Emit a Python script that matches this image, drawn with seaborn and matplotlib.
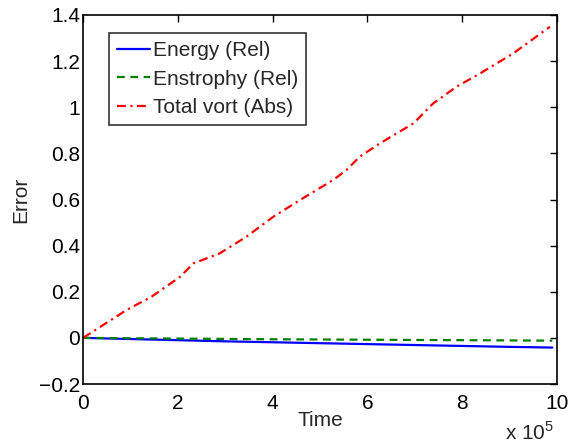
import matplotlib
matplotlib.use("Agg")
import matplotlib.pyplot as plt
import seaborn as sns
import pandas as pd
import numpy as np

# Data (time in units of 1e5)
time_energy = [0, 1, 2, 3, 4, 5, 6, 7, 8, 9, 9.9]
energy = [0, -0.005, -0.010, -0.015, -0.019, -0.023, -0.027, -0.031, -0.035, -0.039, -0.042]
time_enstrophy = [0, 2, 4, 6, 8, 9.9]
enstrophy = [0, -0.003, -0.006, -0.008, -0.010, -0.012]
time_vort = [0, 0.04, 0.92, 1.45, 2.05, 2.33, 2.89, 3.45, 4.02, 4.58, 5.28, 5.56,
             5.84, 6.27, 6.97, 7.39, 7.88, 8.38, 9.08, 9.85]
vort = [0, 0.005, 0.121, 0.179, 0.265, 0.323, 0.367, 0.439, 0.526, 0.598, 0.685, 0.728,
        0.786, 0.844, 0.930, 1.017, 1.089, 1.147, 1.234, 1.349]

labels = ["Energy (Rel)", "Enstrophy (Rel)", "Total vort (Abs)"]
colors = ["#0000FF", "#008000", "#FF0000"]
x_ticks = [0, 2, 4, 6, 8, 10]
y_ticks = [-0.2, 0, 0.2, 0.4, 0.6, 0.8, 1, 1.2, 1.4]
y_ticklabels = ["\u22120.2", "0", "0.2", "0.4", "0.6", "0.8", "1", "1.2", "1.4"]

df = pd.concat([
    pd.DataFrame({"Time": time_energy, "Error": energy, "series": labels[0]}),
    pd.DataFrame({"Time": time_enstrophy, "Error": enstrophy, "series": labels[1]}),
    pd.DataFrame({"Time": time_vort, "Error": vort, "series": labels[2]}),
], ignore_index=True)

sns.set_style("white")
plt.rcParams["font.family"] = ["Liberation Sans", "DejaVu Sans"]
plt.rcParams["mathtext.fontset"] = "custom"
plt.rcParams["mathtext.rm"] = "Liberation Sans"

FS = 15
fig = plt.figure(figsize=(5.7, 4.45), dpi=100)
ax = fig.add_axes([83/570, (445-384)/445, (557-83)/570, (384-15)/445])

sns.lineplot(data=df, x="Time", y="Error", hue="series", style="series",
             palette=dict(zip(labels, colors)),
             dashes={labels[0]: "", labels[1]: (3.5, 2.5), labels[2]: (4, 2, 1, 2)},
             linewidth=1.6, ax=ax, sort=False, estimator=None)

ax.set_xlim(0, 10)
ax.set_ylim(-0.2, 1.4)
ax.set_xticks(x_ticks)
ax.set_xticklabels([str(t) for t in x_ticks])
ax.set_yticks(y_ticks)
ax.set_yticklabels(y_ticklabels)
ax.tick_params(direction="in", length=5, width=1, top=True, right=True,
               labelsize=FS, colors="black")
ax.tick_params(axis="x", pad=7)
ax.tick_params(axis="y", pad=2)
for s in ax.spines.values():
    s.set_visible(True)
    s.set_color("black")
    s.set_linewidth(1.2)

ax.set_xlabel("Time", fontsize=FS, labelpad=-1)
ax.set_ylabel("Error", fontsize=FS, labelpad=6)

leg = ax.legend(loc="upper left", bbox_to_anchor=(0.055, 0.951), borderaxespad=0,
                fontsize=FS, frameon=True, fancybox=False, handlelength=1.55,
                handletextpad=0.15, labelspacing=0.45, borderpad=0.4)
leg.get_frame().set_edgecolor("black")
leg.get_frame().set_linewidth(1.2)

fig.text(530/570, 1 - 432/445, r"x 10$^5$", fontsize=FS, ha="center", va="center")

fig.savefig("out.png", dpi=100)
